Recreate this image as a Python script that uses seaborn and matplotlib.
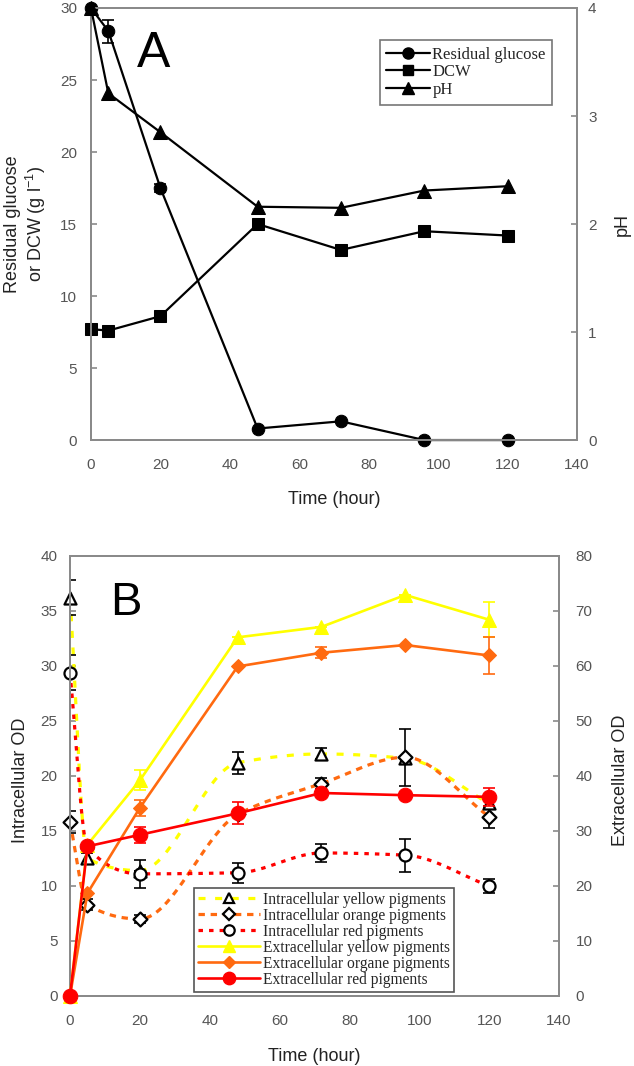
import numpy as np
import pandas as pd
import matplotlib
matplotlib.use("Agg")
import matplotlib.pyplot as plt
from matplotlib.lines import Line2D
import seaborn as sns

# ---------------- data ----------------
time = [0, 5, 20, 48, 72, 96, 120]

# Panel A
glucose = [30.0, 28.4, 17.5, 0.8, 1.3, 0.0, 0.0]
glucose_err = [0, 0.8, 0.3, 0, 0, 0, 0]
dcw = [7.7, 7.6, 8.6, 15.0, 13.2, 14.5, 14.2]
ph = [4.0, 3.21, 2.85, 2.16, 2.15, 2.31, 2.35]

# Panel B (intracellular: left axis, extracellular: right axis)
int_yellow = [36.2, 12.5, 11.4, 21.2, 22.0, 21.6, 17.5]
int_yellow_err = [1.6, 0.5, 0, 1.0, 0.5, 0, 0.4]
int_orange = [15.8, 8.3, 7.0, 16.5, 19.3, 21.7, 16.3]
int_orange_err = [1.0, 0.5, 0.4, 0, 0.5, 2.6, 1.0]
int_red = [29.4, 13.5, 11.1, 11.2, 13.0, 12.8, 10.0]
int_red_err = [1.6, 0, 1.3, 0.9, 0.8, 1.5, 0.6]

ext_yellow = [0.0, 27.5, 39.2, 65.2, 67.1, 72.9, 68.4]
ext_yellow_err = [0, 0, 1.8, 0, 0, 0, 3.2]
ext_orange = [0.0, 18.7, 34.2, 59.9, 62.4, 63.8, 61.9]
ext_orange_err = [0, 0, 1.5, 0, 1.0, 0, 3.4]
ext_red = [0.0, 27.2, 29.3, 33.2, 36.9, 36.5, 36.2]
ext_red_err = [0, 0, 1.5, 2.0, 0, 0, 1.6]

label_A = ["Residual glucose", "DCW", "pH"]
label_B = ["Intracellular yellow pigments", "Intracellular orange pigments",
           "Intracellular red pigments", "Extracellular yellow pigments",
           "Extracellular organe pigments", "Extracellular red pigments"]

YEL, ORA, RED = "#FFFF00", "#FF6A10", "#FF0000"
SP = "#8a8a8a"
TK = "#555555"

sns.set_theme(style="white")
plt.rcParams["font.family"] = ["Liberation Sans", "DejaVu Sans"]
plt.rcParams["mathtext.fontset"] = "custom"
plt.rcParams["mathtext.rm"] = "Liberation Sans"


def smooth(x, y, n=40):
    """Smoothed (shape-preserving cubic) curve through the data points."""
    x = np.asarray(x, float)
    y = np.asarray(y, float)
    h = np.diff(x)
    d = np.diff(y) / h
    m = np.zeros_like(y)
    for i in range(1, len(y) - 1):
        if d[i - 1] * d[i] > 0:
            w1 = 2 * h[i] + h[i - 1]
            w2 = h[i] + 2 * h[i - 1]
            m[i] = (w1 + w2) / (w1 / d[i - 1] + w2 / d[i])
    m[0] = d[0]
    m[-1] = d[-1]
    xs, ys = [], []
    for i in range(len(x) - 1):
        t = np.linspace(0, 1, n)
        if i > 0:
            t = t[1:]
        h00 = 2 * t ** 3 - 3 * t ** 2 + 1
        h10 = t ** 3 - 2 * t ** 2 + t
        h01 = -2 * t ** 3 + 3 * t ** 2
        h11 = t ** 3 - t ** 2
        xs.append(x[i] + t * h[i])
        ys.append(h00 * y[i] + h10 * h[i] * m[i] + h01 * y[i + 1] + h11 * h[i] * m[i + 1])
    return np.concatenate(xs), np.concatenate(ys)


def style_axes(ax, ypad=9):
    for s in ax.spines.values():
        s.set_color(SP)
        s.set_linewidth(1.4)
    ax.tick_params(direction="in", length=4, width=1.2, color=SP,
                   labelsize=11, labelcolor=TK)
    ax.tick_params(axis="x", pad=13)
    ax.tick_params(axis="y", pad=ypad)


fig = plt.figure(figsize=(6.34, 10.66), dpi=100)

# ================= Panel A =================
axA = fig.add_axes([0.1435, 0.5872, 0.7666, 0.4053])
axA2 = axA.twinx()

sns.lineplot(x=time, y=dcw, ax=axA, color="black", lw=1.6, marker="s",
             markersize=8, markeredgecolor="black", clip_on=False, zorder=3)
sns.lineplot(x=time, y=glucose, ax=axA, color="black", lw=1.6, marker="o",
             markersize=9, markeredgecolor="black", clip_on=False, zorder=4)
axA.errorbar(time, glucose, yerr=glucose_err, fmt="none", ecolor="black",
             elinewidth=1.2, capsize=4, capthick=1.2, zorder=2)
sns.lineplot(x=time, y=ph, ax=axA2, color="black", lw=1.6, marker="^",
             markersize=9.5, markeredgecolor="black", clip_on=False, zorder=3)

axA.set_xlim(0, 140)
axA.set_ylim(0, 30)
axA2.set_ylim(0, 4)
axA.set_xticks(range(0, 141, 20))
axA.set_yticks(range(0, 31, 5))
axA2.set_yticks([0, 1, 2, 3, 4])
style_axes(axA, ypad=10)
style_axes(axA2, ypad=8)
axA.set_xlabel("Time (hour)", fontsize=13, color="#222222")
axA.xaxis.set_label_coords(0.5, -0.118)
axA.set_ylabel("Residual glucose\nor DCW (g l$^{\\mathregular{-1}}$)", fontsize=13,
               color="#222222", linespacing=1.15)
axA.yaxis.set_label_coords(-0.089, 0.5)
axA2.set_ylabel("pH", fontsize=13, color="#222222", rotation=90)
axA2.yaxis.set_label_coords(1.075, 0.5)
axA.text(0.128, 0.893, "A", transform=axA.transAxes, fontsize=36,
         ha="center", va="center", color="black")

hA = [Line2D([], [], color="black", lw=1.6, marker=m, markersize=ms)
      for m, ms in zip(["o", "s", "^"], [8, 7.5, 8.5])]
legA = axA2.legend(hA, label_A, loc="upper left",
                   bbox_to_anchor=(0.599, 0.9625), bbox_transform=fig.transFigure,
                   prop={"family": "Liberation Serif", "size": 12},
                   frameon=True, fancybox=False, edgecolor="#555555",
                   handlelength=2.6, handletextpad=0.15, labelspacing=0.1,
                   borderpad=0.4, borderaxespad=0)
legA.get_frame().set_linewidth(1.2)

# ================= Panel B =================
axB = fig.add_axes([0.1104, 0.0657, 0.7713, 0.4128])
axB2 = axB.twinx()

int_series = [
    (int_yellow, int_yellow_err, YEL, "^", (2.2, 3.0)),
    (int_orange, int_orange_err, ORA, "D", (2.0, 1.8)),
    (int_red, int_red_err, RED, "o", (1.4, 1.9)),
]
for vals, err, col, mk, dash in int_series:
    sx, sy = smooth(time, vals)
    df = pd.DataFrame({"t": sx, "v": sy})
    sns.lineplot(data=df, x="t", y="v", ax=axB, color=col, lw=2.3,
                 sort=False, estimator=None, zorder=2)
    axB.lines[-1].set_dashes(dash)
    axB.errorbar(time, vals, yerr=err, fmt="none", ecolor="black",
                 elinewidth=1.2, capsize=4, capthick=1.2, zorder=3)
    sns.scatterplot(x=time, y=vals, ax=axB, marker=mk, s=75 if mk != "D" else 50,
                    facecolor="white", edgecolor="black", linewidth=1.6,
                    zorder=4, clip_on=False)

ext_series = [
    (ext_yellow, ext_yellow_err, YEL, "^", 10.5),
    (ext_orange, ext_orange_err, ORA, "D", 7.5),
    (ext_red, ext_red_err, RED, "o", 10.5),
]
for vals, err, col, mk, ms in ext_series:
    axB2.errorbar(time, vals, yerr=err, fmt="none", ecolor=col,
                  elinewidth=1.2, capsize=4, capthick=1.2, zorder=2)
    sns.lineplot(x=time, y=vals, ax=axB2, color=col, lw=1.9, marker=mk,
                 markersize=ms, markeredgecolor=col, clip_on=False, zorder=3)

axB.set_xlim(0, 140)
axB.set_ylim(0, 40)
axB2.set_ylim(0, 80)
axB.set_xticks(range(0, 141, 20))
axB.set_yticks(range(0, 41, 5))
axB2.set_yticks(range(0, 81, 10))
style_axes(axB, ypad=9)
style_axes(axB2, ypad=12)
axB.set_xlabel("Time (hour)", fontsize=13, color="#222222")
axB.xaxis.set_label_coords(0.5, -0.118)
axB.set_ylabel("Intracellular OD", fontsize=13, color="#222222")
axB.yaxis.set_label_coords(-0.084, 0.49)
axB2.set_ylabel("Extracellular OD", fontsize=13, color="#222222", rotation=90)
axB2.yaxis.set_label_coords(1.108, 0.49)
axB.text(0.115, 0.893, "B", transform=axB.transAxes, fontsize=34,
         ha="center", va="center", color="black")

hB = []
for vals, err, col, mk, dash in int_series:
    h = Line2D([], [], color=col, lw=2.3, marker=mk,
               markersize=7.5 if mk != "D" else 6.5, markerfacecolor="white",
               markeredgecolor="black", markeredgewidth=1.6)
    h.set_dashes(dash)
    hB.append(h)
for vals, err, col, mk, ms in ext_series:
    hB.append(Line2D([], [], color=col, lw=1.9, marker=mk,
                     markersize=ms * 0.85, markeredgecolor=col))
legB = axB2.legend(hB, label_B, loc="upper left",
                   bbox_to_anchor=(0.306, 1 - 888 / 1066), bbox_transform=fig.transFigure,
                   prop={"family": "Liberation Serif", "size": 11.2},
                   frameon=True, fancybox=False, edgecolor="#555555",
                   handlelength=4.0, handletextpad=0.2, labelspacing=0.0,
                   borderpad=0.25, borderaxespad=0)
legB.get_frame().set_linewidth(1.2)
legB.get_frame().set_alpha(1)

fig.savefig("out.png", dpi=100)
